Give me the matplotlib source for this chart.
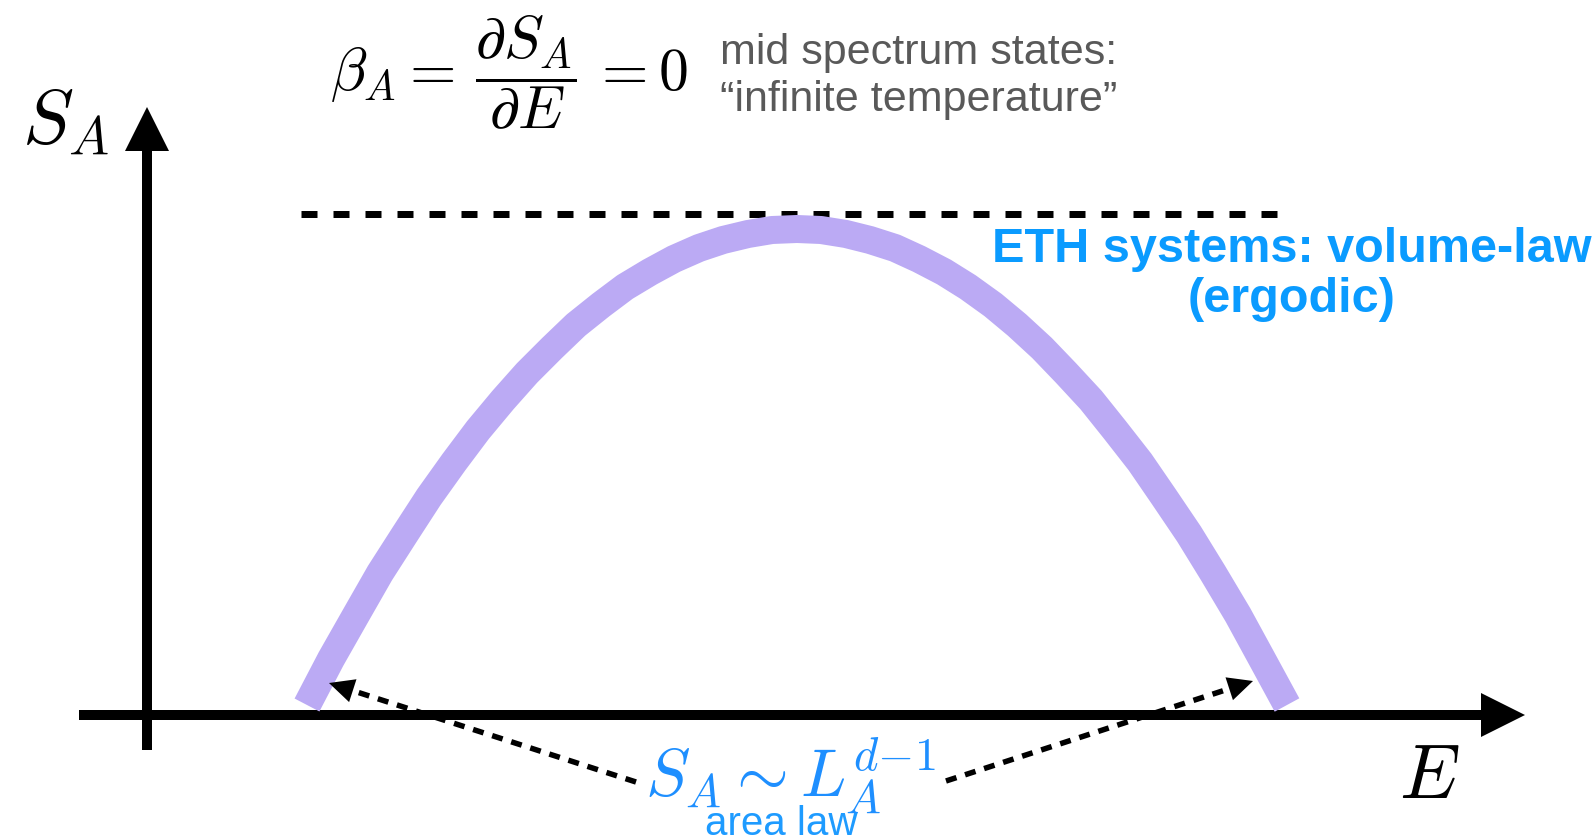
import matplotlib
matplotlib.use("Agg")
import matplotlib.pyplot as plt
import numpy as np

plt.rcParams['mathtext.fontset'] = 'cm'
plt.rcParams['font.family'] = ['Liberation Sans', 'DejaVu Sans']

# ---- data (schematic; origin = axes crossing) ----
curve_E = [160, 184, 209, 233, 258, 282, 307, 331, 356, 380, 405, 429, 454, 478,
           503, 527, 552, 576, 601, 625, 650, 674, 699, 723, 748, 772, 797, 821,
           846, 870, 895, 919, 944, 968, 993, 1017, 1042, 1066, 1091, 1115, 1140]
curve_S = [10, 56, 100, 142, 181, 218, 253, 285, 315, 342, 367, 390, 410, 428,
           443, 456, 467, 475, 481, 485, 486, 485, 481, 475, 467, 456, 443, 428,
           410, 390, 367, 342, 315, 285, 253, 218, 181, 142, 100, 56, 10]

max_line_E = [154, 1132]
max_line_S = [501.5, 501.5]

xaxis_E = [-68, 1378]
xaxis_S = [0, 0]
yaxis_E = [0, 0]
yaxis_S = [-35, 608]

left_arrow_E = [489, 182]
left_arrow_S = [-67, 32]
right_arrow_E = [799, 1106]
right_arrow_S = [-66, 34]

W, H = 1594, 840
fig = plt.figure(figsize=(W / 100, H / 100), dpi=100)
ax = fig.add_axes([0, 0, 1, 1])
ax.set_xlim(-147, W - 147)
ax.set_ylim(715 - H, 715)
ax.axis('off')

PX = 72 / 100.0  # points per pixel


def arrow_line(E, S, lw_px, head_len_px, head_hw_px, dashes=None, z=3):
    E = np.asarray(E, float)
    S = np.asarray(S, float)
    d = np.array([E[1] - E[0], S[1] - S[0]])
    u = d / np.hypot(*d)
    base = np.array([E[1], S[1]]) - u * (head_len_px * 0.85)
    line, = ax.plot([E[0], base[0]], [S[0], base[1]], color='k', lw=lw_px * PX,
                    solid_capstyle='butt', dash_capstyle='butt', zorder=z)
    if dashes is not None:
        line.set_dashes(dashes)
    back = np.array([E[1], S[1]]) - u * head_len_px * 1.5
    ax.annotate('', xy=(E[1], S[1]), xytext=(back[0], back[1]),
                arrowprops=dict(arrowstyle='-|>,head_length=%.3f,head_width=%.3f'
                                % (head_len_px * PX / 10, head_hw_px * PX / 10),
                                mutation_scale=10, color='k', lw=0,
                                shrinkA=0, shrinkB=0),
                zorder=z + 1)


# axes
arrow_line(xaxis_E, xaxis_S, 10, 44, 22, z=2)
arrow_line(yaxis_E, yaxis_S, 10, 44, 22, z=2)

# curve
ax.plot(curve_E, curve_S, color='#bbaaf4', lw=28 * PX, solid_capstyle='butt',
        solid_joinstyle='round', zorder=4)

# maximum dashed line
ml, = ax.plot(max_line_E, max_line_S, color='k', lw=7 * PX, dash_capstyle='butt', zorder=3)
ml.set_dashes((16 / 7, 16 / 7))

# dotted arrows
arrow_line(left_arrow_E, left_arrow_S, 5.5, 25, 12, dashes=(2.0, 1.64), z=5)
arrow_line(right_arrow_E, right_arrow_S, 5.5, 25, 12, dashes=(2.0, 1.64), z=5)

# labels
ax.text(-125, 572, r'$S_A$', fontsize=55, ha='left', va='baseline')
ax.text(1252, -83, r'$E$', fontsize=55, ha='left', va='baseline')

ax.text(183, 642.5, r'$\beta_A = \,\dfrac{\partial S_A}{\partial E}\, = 0$', fontsize=43,
        ha='left', va='center')
ax.text(573, 651, 'mid spectrum states:', fontsize=31, color='#595959',
        ha='left', va='baseline')
ax.text(573, 604, '\u201cinfinite temperature\u201d', fontsize=31, color='#595959',
        ha='left', va='baseline')

ax.text(1145, 453, 'ETH systems: volume-law', fontsize=35, fontweight='bold',
        color='#0a9bff', ha='center', va='baseline')
ax.text(1145, 403, '(ergodic)', fontsize=35, fontweight='bold',
        color='#0a9bff', ha='center', va='baseline')

ax.text(643, -82, r'$S_A \sim L_A^{d{-}1}$', fontsize=48, color='#1e8fff',
        ha='center', va='baseline', zorder=6)
ax.text(634, -120, 'area law', fontsize=29, color='#1e9bff',
        ha='center', va='baseline', zorder=6)

fig.savefig('out.png', dpi=100)
